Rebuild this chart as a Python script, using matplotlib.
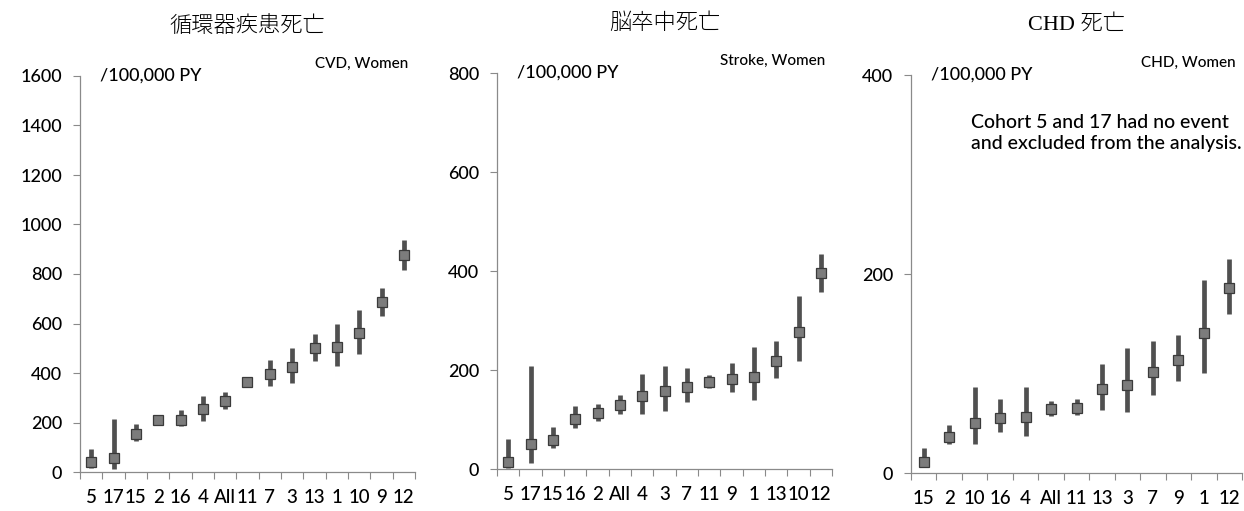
import numpy as np
import matplotlib
matplotlib.use("Agg")
import matplotlib.pyplot as plt
from matplotlib.ticker import FixedLocator, NullFormatter

# --- data (rate /100,000 PY, lower / upper 95% CI) ---
cvd_labels = ["5", "17", "15", "2", "16", "4", "All", "11", "7", "3", "13", "1", "10", "9", "12"]
cvd_rate = [39, 57, 155, 210, 211, 254, 288, 362, 396, 423, 503, 507, 561, 685, 875]
cvd_low = [16, 12, 124, 190, 187, 207, 254, 347, 346, 358, 450, 427, 477, 629, 817]
cvd_high = [93, 215, 194, 231, 252, 309, 323, 377, 452, 501, 558, 600, 656, 745, 936]

stroke_labels = ["5", "17", "15", "16", "2", "All", "4", "3", "7", "11", "9", "1", "13", "10", "12"]
stroke_rate = [15, 51, 59, 101, 113, 130, 147, 157, 165, 176, 182, 186, 219, 276, 395]
stroke_low = [3, 12, 42, 83, 96, 112, 111, 118, 135, 164, 156, 140, 184, 219, 357]
stroke_high = [61, 209, 84, 128, 131, 150, 191, 209, 204, 190, 214, 246, 258, 349, 435]

chd_labels = ["15", "2", "10", "16", "4", "All", "11", "13", "3", "7", "9", "1", "12"]
chd_rate = [11.5, 36, 50, 55, 56, 64, 65, 84.5, 88, 102, 114, 141, 186]
chd_low = [6, 29, 29, 41, 37, 57, 58, 63, 61, 78, 92, 101, 160]
chd_high = [25, 48, 86, 74, 86, 72, 74, 110, 126, 133, 139, 194, 215]

titles = ["循環器疾患死亡", "脳卒中死亡", "CHD 死亡"]
tags = ["CVD, Women", "Stroke, Women", "CHD, Women"]
ymax = [1600, 800, 400]
ystep = [200, 200, 200]
note = "Cohort 5 and 17 had no event\nand excluded from the analysis."

LAT = ["Lato", "DejaVu Sans"]
TITLE_FONT = ["Liberation Serif", "Noto Sans CJK JP"]

fig = plt.figure(figsize=(12.44, 5.11), dpi=100)

boxes = [
    [80 / 1244, 39 / 511, 335 / 1244, 396 / 511],
    [497 / 1244, 42 / 511, 335 / 1244, 396 / 511],
    [911 / 1244, 38 / 511, 331 / 1244, 398 / 511],
]
panels = [
    (cvd_labels, cvd_rate, cvd_low, cvd_high),
    (stroke_labels, stroke_rate, stroke_low, stroke_high),
    (chd_labels, chd_rate, chd_low, chd_high),
]

for i, (labels, rate, low, high) in enumerate(panels):
    ax = fig.add_axes(boxes[i])
    n = len(labels)
    x = np.arange(1, n + 1)
    rate = np.array(rate, dtype=float)
    yerr = [rate - np.array(low), np.array(high) - rate]
    ax.errorbar(x, rate, yerr=yerr, fmt="s", ms=7.5, mfc="#7c7c7c", mec="#3a3a3a",
                mew=0.9, ecolor="#505050", elinewidth=3.4, capsize=0, zorder=3)

    ax.set_xlim(0.5, n + 0.5)
    ax.set_ylim(0, ymax[i])
    for s in ["top", "right"]:
        ax.spines[s].set_visible(False)
    for s in ["left", "bottom"]:
        ax.spines[s].set_color("#8a8a8a")
        ax.spines[s].set_linewidth(0.9)

    ax.set_yticks(np.arange(0, ymax[i] + 1, ystep[i]))
    ax.tick_params(axis="y", direction="out", length=5, width=0.8, color="#8a8a8a",
                   pad=8, labelsize=13)
    ax.xaxis.set_major_locator(FixedLocator(np.arange(0.5, n + 1, 1.0)))
    ax.xaxis.set_major_formatter(NullFormatter())
    ax.xaxis.set_minor_locator(FixedLocator(x))
    ax.set_xticklabels(labels, minor=True)
    ax.tick_params(axis="x", which="major", direction="out", length=5, width=0.8,
                   color="#8a8a8a")
    ax.tick_params(axis="x", which="minor", length=0, pad=12, labelsize=13.5)
    for lab in ax.get_xticklabels(minor=True) + ax.get_yticklabels():
        lab.set_family(LAT)
        lab.set_weight("medium")

    ax.text(0.06, 1.0, "/100,000 PY", transform=ax.transAxes, ha="left", va="center",
            fontsize=13, family=LAT, weight="medium")
    ax.text(0.98, 1.03, tags[i], transform=ax.transAxes, ha="right", va="center",
            fontsize=11, family=LAT, weight="medium")
    ax.text(0.5, 1.125, titles[i], transform=ax.transAxes, ha="center", va="center",
            fontsize=16, family=TITLE_FONT, weight="light")
    if i == 2:
        ax.text(0.18, 0.855, note, transform=ax.transAxes, ha="left", va="center",
                fontsize=14, family=LAT, weight="medium", linespacing=1.3)

fig.savefig("out.png", dpi=100)
